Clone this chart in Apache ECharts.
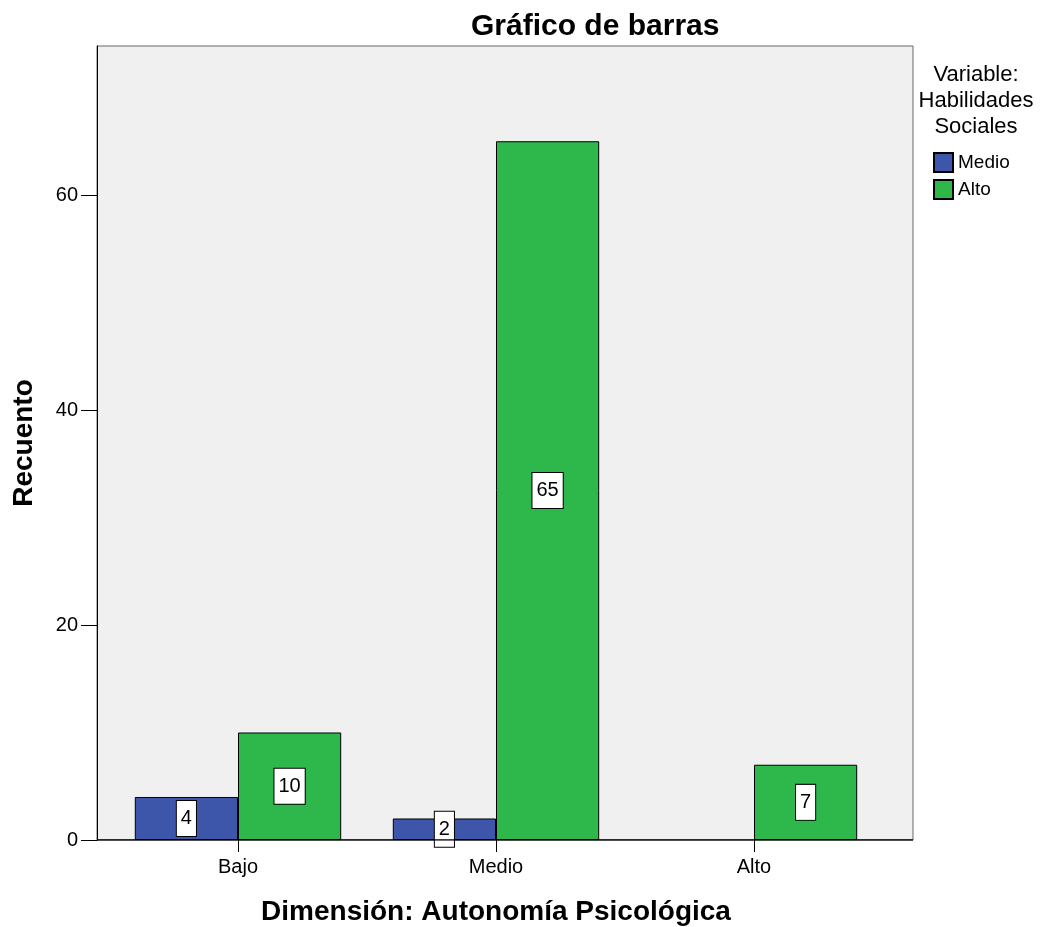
<!DOCTYPE html>
<html>
<head>
<meta charset="utf-8">
<script src="https://cdn.jsdelivr.net/npm/echarts@6/dist/echarts.min.js"></script>
<style>
	html, body { margin: 0; padding: 0; background: #fff; }
	#chart { width: 1052px; height: 927px; }
</style>
</head>
<body>
<div id="chart"></div>
<script>
// Data
const categories = ['Bajo', 'Medio', 'Alto']
const medioValues = [4, 2, null]
const altoValues = [10, 65, 7]
const seriesNames = ['Medio', 'Alto']
const yTicks = [0, 20, 40, 60]

const chart = echarts.init(document.getElementById('chart'))

const labelStyle = {
	show: true,
	position: 'inside',
	color: '#000',
	fontSize: 20,
	fontFamily: 'Liberation Sans',
	backgroundColor: '#fff',
	borderColor: '#000',
	borderWidth: 1,
	padding: [8, 4, 7, 4]
}

const yMax = 73.86

const option = {
	animation: false,
	textStyle: { fontFamily: 'Liberation Sans' },
	title: [
		{
			text: 'Gráfico de barras',
			left: 466,
			top: 7,
			textStyle: { fontSize: 30, fontWeight: 'bold', color: '#000', fontFamily: 'Liberation Sans' }
		},
		{
			text: 'Variable:\nHabilidades\nSociales',
			left: 971,
			top: 57,
			textAlign: 'center',
			textStyle: { fontSize: 22, fontWeight: 'normal', color: '#000', lineHeight: 26, fontFamily: 'Liberation Sans' }
		}
	],
	legend: {
		data: seriesNames,
		orient: 'vertical',
		left: 933,
		top: 152,
		padding: 0,
		itemWidth: 19,
		itemHeight: 19,
		itemGap: 6,
		icon: 'rect',
		textStyle: { fontSize: 19, color: '#000' }
	},
	grid: [
		{
			left: 97, right: 139, top: 46, bottom: 87,
			outerBoundsMode: 'none',
			show: true,
			backgroundColor: '#f0f0f0',
			borderColor: '#666',
			borderWidth: 1
		},
		{
			left: 109, right: 169, top: 46, bottom: 87,
			outerBoundsMode: 'none'
		}
	],
	xAxis: [
		{
			gridIndex: 0,
			type: 'value',
			min: 0, max: 1,
			show: false
		},
		{
			gridIndex: 1,
			type: 'category',
			data: categories,
			axisLine: { show: false },
			axisTick: { show: true, alignWithLabel: true, length: 12, lineStyle: { color: '#000' } },
			axisLabel: { fontSize: 20, color: '#000', margin: 17 },
			name: 'Dimensión: Autonomía Psicológica',
			nameLocation: 'middle',
			nameGap: 58,
			nameTextStyle: { fontSize: 28, fontWeight: 'bold', color: '#000' }
		}
	],
	yAxis: [
		{
			gridIndex: 0,
			type: 'value',
			min: 0,
			max: yMax,
			interval: 20,
			axisLine: { show: true, lineStyle: { color: '#000' } },
			axisTick: { show: true, length: 16, lineStyle: { color: '#000' } },
			axisLabel: {
				fontSize: 20, color: '#000', margin: 19, showMaxLabel: false,
				formatter: v => (yTicks.indexOf(v) >= 0 ? String(v) : '')
			},
			splitLine: { show: false },
			name: 'Recuento',
			nameLocation: 'middle',
			nameGap: 59,
			nameTextStyle: { fontSize: 28, fontWeight: 'bold', color: '#000' }
		},
		{
			gridIndex: 1,
			type: 'value',
			min: 0,
			max: yMax,
			show: false
		}
	],
	series: [
		{
			name: seriesNames[0],
			type: 'bar',
			xAxisIndex: 1,
			yAxisIndex: 1,
			data: medioValues,
			barGap: '0%',
			barCategoryGap: '20%',
			itemStyle: { color: '#3d56aa', borderColor: '#000', borderWidth: 1 },
			label: labelStyle
		},
		{
			name: seriesNames[1],
			type: 'bar',
			xAxisIndex: 1,
			yAxisIndex: 1,
			data: altoValues,
			barGap: '0%',
			barCategoryGap: '20%',
			itemStyle: { color: '#2eb84b', borderColor: '#000', borderWidth: 1 },
			label: labelStyle
		},
		{
			// x axis line drawn along the bottom of the plot
			type: 'line',
			xAxisIndex: 0,
			yAxisIndex: 0,
			data: [[0, 0], [1, 0]],
			symbol: 'none',
			lineStyle: { color: '#000', width: 1.5 },
			silent: true,
			z: 10
		}
	]
}

chart.setOption(option)
</script>
</body>
</html>
